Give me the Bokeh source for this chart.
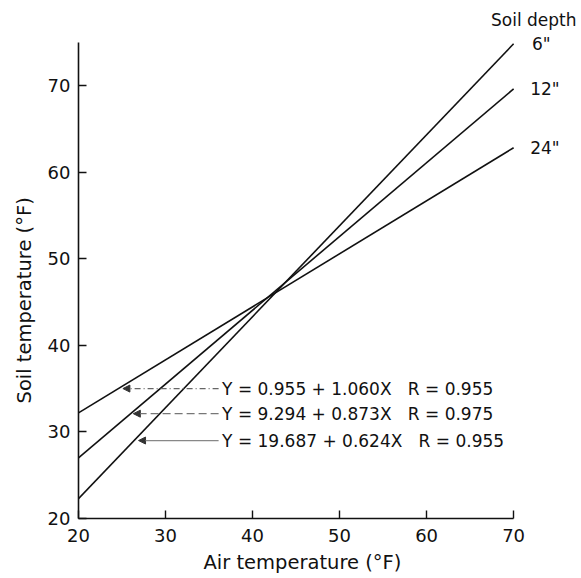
from bokeh.plotting import figure
from bokeh.models import Range1d, Arrow, NormalHead, ColumnDataSource, FixedTicker, Title
from bokeh.core.properties import value
from bokeh.embed import file_html
from bokeh.resources import INLINE

# ---- data ----
air_x = [20, 70]
depth_labels = ['6"', '12"', '24"']
soil_6in = [22.3, 74.8]
soil_12in = [27.0, 69.6]
soil_24in = [32.2, 62.8]
equations = [
    "Y = 0.955 + 1.060X\u00a0\u00a0\u00a0R = 0.955",
    "Y = 9.294 + 0.873X\u00a0\u00a0\u00a0R = 0.975",
    "Y = 19.687 + 0.624X\u00a0\u00a0\u00a0R = 0.955",
]
eq_y = [35.0, 32.1, 29.0]
arrow_head_x = [25.1, 26.3, 26.9]
arrow_tail_x = [36.1, 36.1, 36.1]
x_ticks = [20, 30, 40, 50, 60, 70]
y_ticks = [20, 30, 40, 50, 60, 70]

FONT = "DejaVu Sans"
INK = "#111111"

p = figure(width=581, height=578, output_backend="svg", toolbar_location=None,
           x_range=Range1d(20, 77.8), y_range=Range1d(20, 79.8),
           min_border_left=78, min_border_bottom=60, min_border_top=0, min_border_right=0)
p.outline_line_color = None
p.xgrid.visible = False
p.ygrid.visible = False
p.background_fill_color = "white"
p.border_fill_color = "white"

for ax, ticks, bounds in ((p.xaxis[0], x_ticks, (20, 70)), (p.yaxis[0], y_ticks, (20, 75))):
    ax.ticker = FixedTicker(ticks=ticks)
    ax.bounds = bounds
    ax.major_tick_in = 8
    ax.major_tick_out = 0
    ax.minor_tick_in = 0
    ax.minor_tick_out = 0
    ax.axis_line_width = 1.6
    ax.major_tick_line_width = 1.4
    ax.axis_line_color = INK
    ax.major_tick_line_color = INK
    ax.major_label_text_font = FONT
    ax.major_label_text_font_size = "18px"
    ax.major_label_text_color = INK

p.xaxis.major_label_standoff = 10
p.yaxis.major_label_standoff = 8

# axis titles, placed along the drawn axes as in the reference
p.add_layout(Title(text="Air temperature (°F)", align="left", offset=125, standoff=9,
                   text_font=FONT, text_font_size="19.5px", text_font_style="normal",
                   text_color=INK), "below")
p.add_layout(Title(text="Soil temperature (°F)", align="left", offset=115, standoff=18,
                   text_font=FONT, text_font_size="19.5px", text_font_style="normal",
                   text_color=INK), "left")

for ys in (soil_6in, soil_12in, soil_24in):
    p.line(air_x, ys, line_color=INK, line_width=1.6)

# depth labels at the right ends
end_y = [soil_6in[-1], soil_12in[-1], soil_24in[-1]]
p.text(x=[72.1, 71.9, 71.9], y=end_y, text=depth_labels, text_font=value(FONT),
       text_font_size="17px", text_baseline="middle", text_align="left", text_color=INK)
p.text(x=[67.4], y=[77.6], text=["Soil depth"], text_font=value(FONT),
       text_font_size="17px", text_baseline="middle", text_align="left", text_color=INK)

# equations
p.text(x=[36.5] * 3, y=eq_y, text=equations, text_font=value(FONT),
       text_font_size="17px", text_baseline="middle", text_align="left", text_color=INK)

dashes = ["6 3 1 3", "8 4", "solid"]
colors = ["#666666", "#777777", "#888888"]
for i in range(3):
    src = ColumnDataSource(dict(x0=[arrow_tail_x[i]], x1=[arrow_head_x[i]], y=[eq_y[i]]))
    p.add_layout(Arrow(source=src, x_start="x0", y_start="y", x_end="x1", y_end="y",
                       line_color=colors[i], line_width=1.2, line_dash=dashes[i],
                       end=NormalHead(size=7, fill_color="#333333", line_color="#333333")))

open("out.html", "w").write(file_html(p, INLINE))
